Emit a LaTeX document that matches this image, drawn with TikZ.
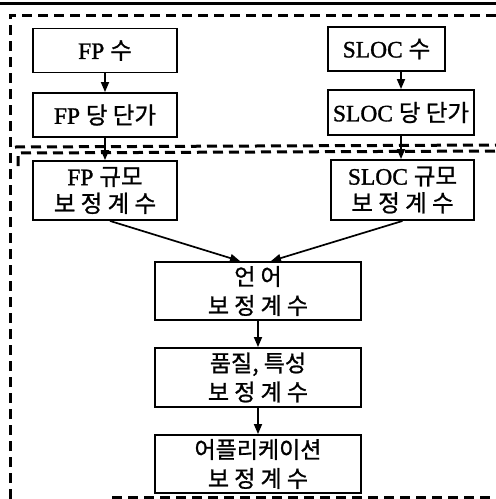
\documentclass[tikz,border=0pt]{standalone}
\usepackage{fontspec}
\setmainfont[FakeBold=1.2]{Liberation Serif}
\newfontfamily\kr[FakeBold=1]{Noto Sans CJK KR}
\usetikzlibrary{arrows.meta}
\begin{document}
\begin{tikzpicture}[x=1pt,y=-1pt,
  box/.style={draw, line width=1.9pt, rectangle, inner sep=0pt, align=center,
    font=\fontsize{23.5}{27}\selectfont},
  lbox/.style={box, minimum width=206pt, font=\fontsize{23}{29}\selectfont\kr},
  arr/.style={line width=1.7pt, -{Triangle[length=10pt,width=8pt]}},
  dsh/.style={line width=3pt, dash pattern=on 10pt off 6pt}]
\useasboundingbox (0,0) rectangle (496,499);
% frame lines
\draw[line width=3pt] (0,3) -- (496,3);
\draw[dsh] (10,499) -- (10,15) -- (496,15);
\draw[dsh] (15,147) -- (496,145);
\draw[dsh] (18,166) -- (18,153) -- (496,151);
\draw[dsh] (112,497) -- (496,497);
% nodes
\node[box, minimum width=144pt, minimum height=44pt] (fp1) at (105,50.5) {FP {\kr 수}};
\node[box, minimum width=144pt, minimum height=44pt] (fp2) at (105,115) {FP {\kr 당 단가}};
\node[box, minimum width=144pt, minimum height=59pt] (fp3) at (105,190.5) {FP {\kr 규모}\\{\kr 보 정 계 수}};
\node[box, minimum width=117pt, minimum height=44pt] (s1) at (386.5,49) {SLOC {\kr 수}};
\node[box, minimum width=146pt, minimum height=45pt] (s2) at (401,112.5) {SLOC {\kr 당 단가}};
\node[box, minimum width=143pt, minimum height=60pt] (s3) at (402.5,190) {SLOC {\kr 규모}\\{\kr 보 정 계 수}};
\node[lbox, minimum height=58pt] (l1) at (258,291) {언 어\\보 정 계 수};
\node[lbox, minimum height=59pt] (l2) at (258,377.5) {품질, 특성\\보 정 계 수};
\node[lbox, minimum height=58pt] (l3) at (258,464) {어플리케이션\\보 정 계 수};
% connectors
\draw[arr] (fp1) -- (fp2);
\draw[arr] (fp2) -- (fp3);
\draw[arr] (s1.south -| s2) -- (s2.north);
\draw[arr] (s2) -- (s3.north -| s2);
\draw[arr] ([xshift=5pt]fp3.south) -- ([xshift=-18pt]l1.north);
\draw[arr] (s3.south) -- ([xshift=13pt]l1.north);
\draw[arr] (l1) -- (l2);
\draw[arr] (l2) -- (l3);
\end{tikzpicture}
\end{document}
